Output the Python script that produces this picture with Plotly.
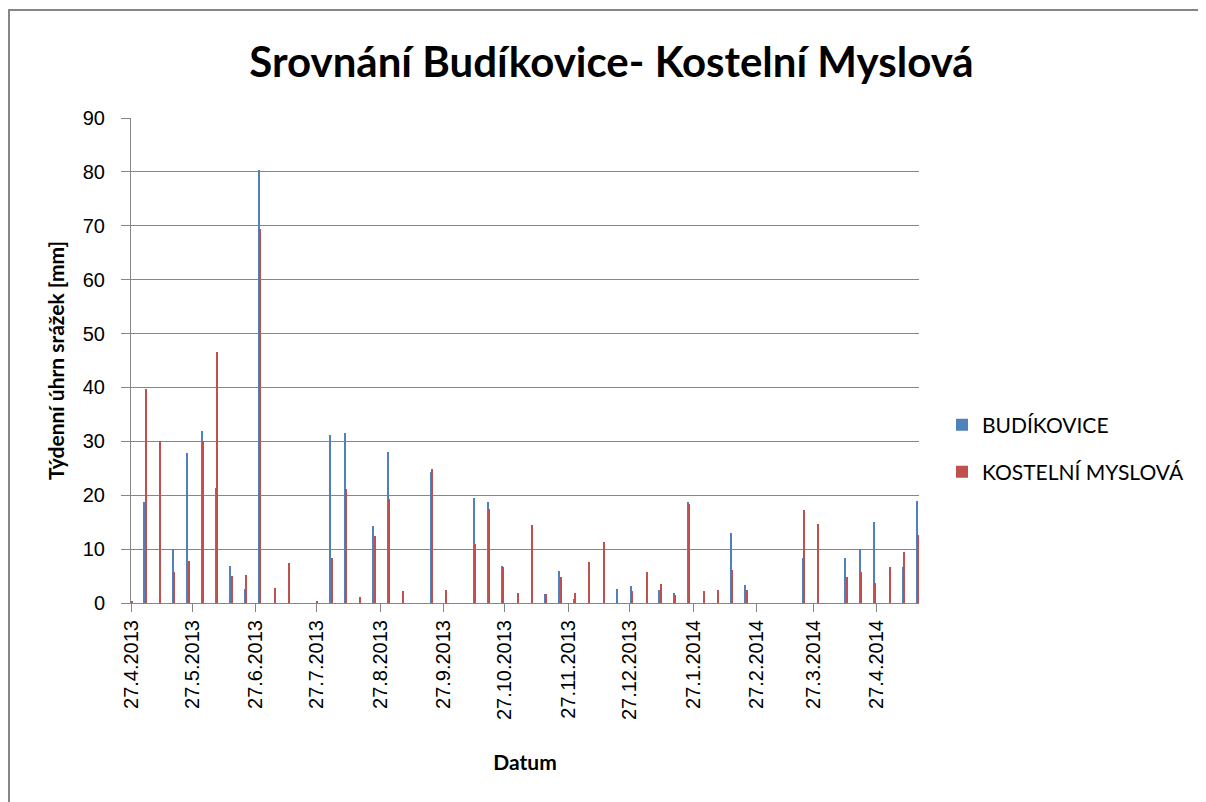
import pandas as pd
import plotly.graph_objects as go

# ---- data -------------------------------------------------------------
start_date = "2013-04-27"
n_weeks = 56
week_dates = pd.date_range(start_date, periods=n_weeks, freq="7D")

budikovice = [0, 18.7, 0, 10.1, 27.8, 32.0, 21.3, 6.9, 2.6, 80.4,
              0, 0, 0, 0, 31.1, 31.5, 0, 14.3, 28.1, 0,
              0, 24.3, 0, 0, 19.4, 18.7, 6.9, 0, 0, 1.7,
              5.9, 0.7, 0, 0, 2.6, 3.1, 0, 2.4, 1.9, 18.7,
              0, 0, 13.0, 3.3, 0, 0, 0, 8.3, 0, 0,
              8.3, 10.1, 15.0, 0, 6.7, 18.9]

kostelni = [0.3, 39.8, 30.0, 5.8, 7.8, 30.0, 46.5, 5.0, 5.2, 69.4,
            2.8, 7.4, 0, 0.25, 8.3, 21.1, 1.1, 12.4, 19.3, 2.2,
            0, 24.8, 2.4, 0, 10.9, 17.5, 6.7, 1.9, 14.4, 1.7,
            4.8, 1.9, 7.6, 11.3, 0, 2.2, 5.7, 3.5, 1.5, 18.3,
            2.2, 2.4, 6.1, 2.4, 0, 0, 0, 17.2, 14.6, 0,
            4.8, 5.7, 3.7, 6.7, 9.4, 12.6]

tick_dates = ["2013-04-27", "2013-05-27", "2013-06-27", "2013-07-27",
              "2013-08-27", "2013-09-27", "2013-10-27", "2013-11-27",
              "2013-12-27", "2014-01-27", "2014-02-27", "2014-03-27",
              "2014-04-27"]
tick_labels = ["27.4.2013", "27.5.2013", "27.6.2013", "27.7.2013",
               "27.8.2013", "27.9.2013", "27.10.2013", "27.11.2013",
               "27.12.2013", "27.1.2014", "27.2.2014", "27.3.2014",
               "27.4.2014"]

series_names = ["BUDÍKOVICE", "KOSTELNÍ MYSLOVÁ"]
series_colors = ["#4F81BD", "#C0504D"]

title_text = "Srovnání Budíkovice- Kostelní Myslová"
y_title = "Týdenní úhrn srážek [mm]"
x_title = "Datum"

# ---- figure -----------------------------------------------------------
DAY = 86400000
bar_w = 0.65 * DAY
grid = "#868686"

fig = go.Figure()
fig.add_trace(go.Bar(x=week_dates, y=budikovice, name=series_names[0],
                     marker=dict(color=series_colors[0], line=dict(width=0)),
                     width=bar_w, offset=-0.65 * DAY, legend="legend"))
fig.add_trace(go.Bar(x=week_dates, y=kostelni, name=series_names[1],
                     marker=dict(color=series_colors[1], line=dict(width=0)),
                     width=bar_w, offset=0, legend="legend2"))

OFF = 8  # page body margin
L, R, T, B = 131 - OFF, 919 - OFF, 118 - OFF, 603 - OFF
W, H = 1206, 802
pw, ph = R - L, B - T

def px(xp):
    return (xp - OFF - L) / pw

def py(yp):
    return (B - (yp - OFF)) / ph

fig.update_layout(
    width=W, height=H,
    margin=dict(l=L, r=W - R, t=T, b=H - B, autoexpand=False),
    paper_bgcolor="white", plot_bgcolor="white",
    barmode="overlay",
    bargap=0,
    title=dict(text=title_text, x=(0.5 * (245 + 978) - OFF) / W, xanchor="center",
               y=1 - (62 - OFF) / H, yanchor="middle", yref="container",
               font=dict(family="Lato", size=42, color="black", weight="bold")),
    font=dict(family="Liberation Sans", color="black"),
    legend=dict(x=px(942), y=py(425), xanchor="left", yanchor="middle",
                font=dict(family="Lato", size=21, color="black"),
                bgcolor="rgba(0,0,0,0)"),
    legend2=dict(x=px(942), y=py(472), xanchor="left", yanchor="middle",
                 font=dict(family="Lato", size=21, color="black"),
                 bgcolor="rgba(0,0,0,0)"),
    showlegend=True,
)

fig.update_xaxes(
    type="date",
    range=["2013-04-27", "2014-05-17 14:00"],
    tickmode="array", tickvals=tick_dates, ticktext=tick_labels,
    tickangle=-90, tickfont=dict(family="Liberation Sans", size=20, color="black"),
    ticks="outside", ticklen=8, tickcolor=grid, tickwidth=1,
    showline=True, linecolor=grid, linewidth=1,
    showgrid=False, zeroline=False,
    title=dict(text=x_title, font=dict(family="Lato", size=21, color="black", weight="bold"),
               standoff=36),
)
fig.update_yaxes(
    range=[0, 90], dtick=10, tick0=0,
    tickfont=dict(family="Liberation Sans", size=20, color="black"),
    ticks="outside", ticklen=9, tickcolor=grid, tickwidth=1,
    ticklabelstandoff=12,
    showline=True, linecolor=grid, linewidth=1,
    showgrid=True, gridcolor=grid, gridwidth=1,
    zeroline=False,
    title=dict(text=y_title, font=dict(family="Lato", size=21, color="black", weight="bold"),
               standoff=12),
)

# outer chart border (extends beyond the visible page on right/bottom)
fig.add_shape(type="rect", xref="paper", yref="paper",
              x0=px(9), x1=px(1240), y0=py(840), y1=py(10),
              line=dict(color=grid, width=2), fillcolor="rgba(0,0,0,0)",
              layer="below")

fig.write_html("out.html")
